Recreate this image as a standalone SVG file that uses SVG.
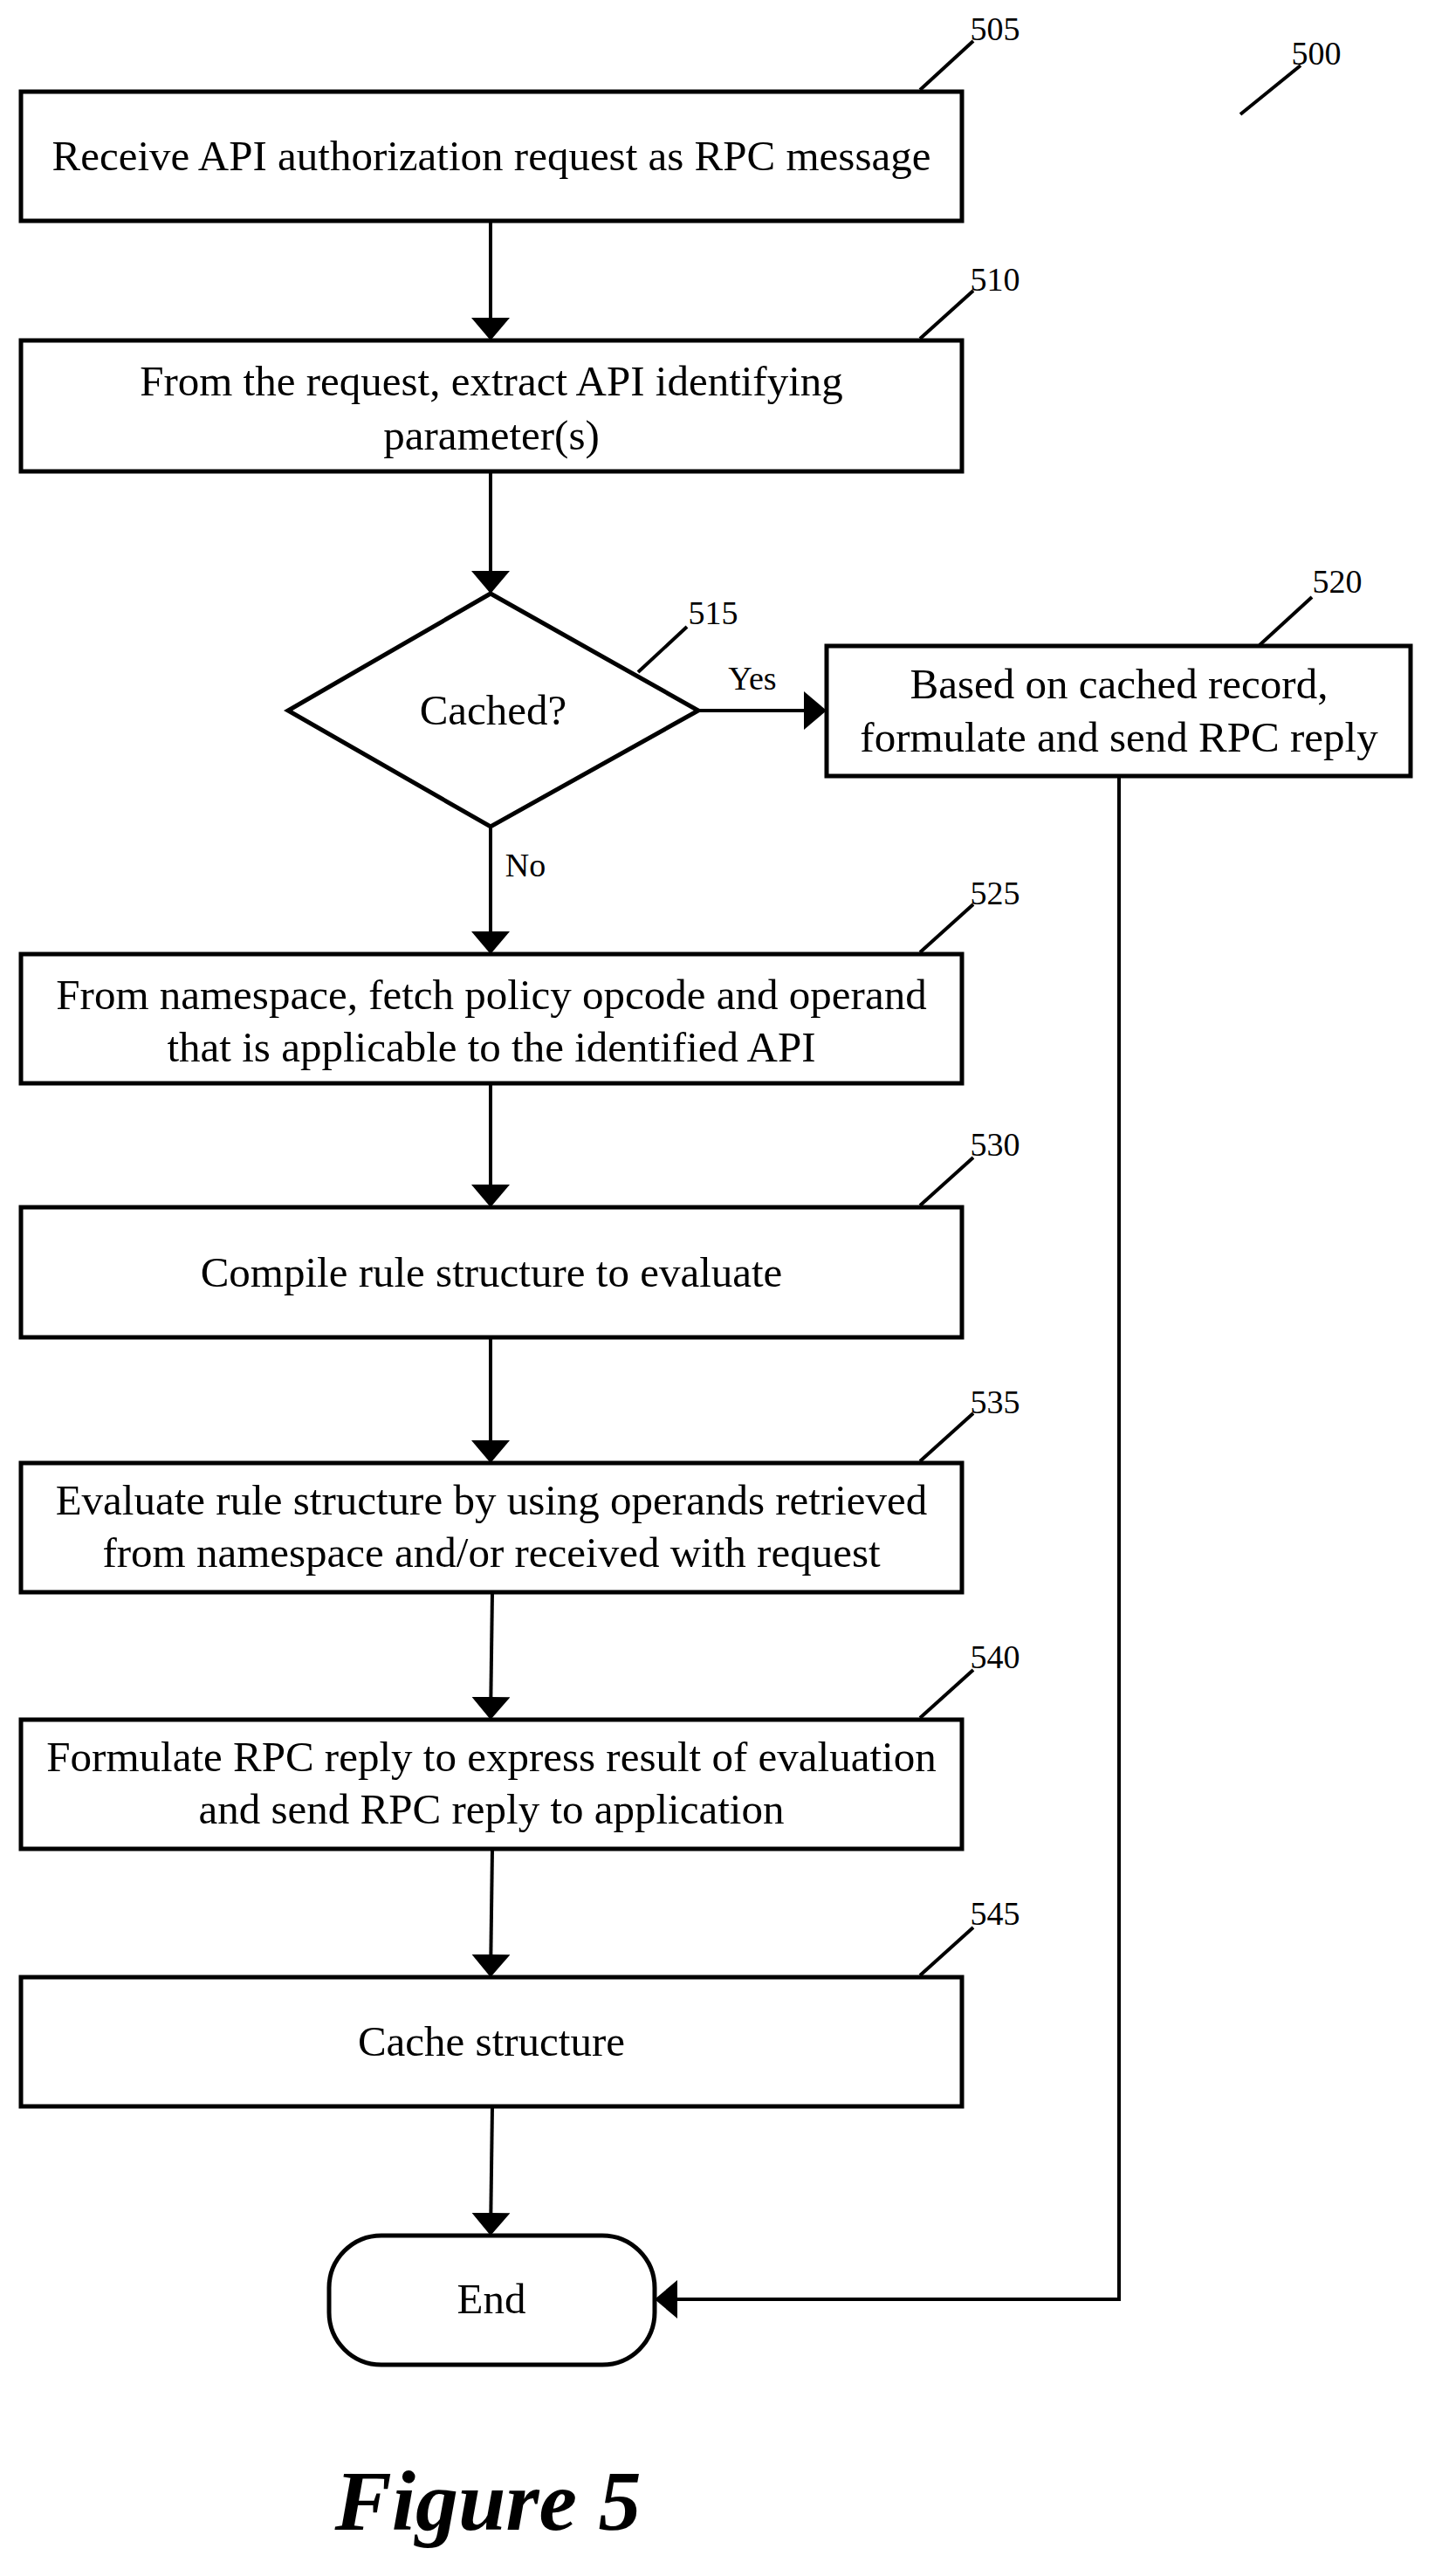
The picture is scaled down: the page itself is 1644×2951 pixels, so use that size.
<svg xmlns="http://www.w3.org/2000/svg" width="1644" height="2951" viewBox="0 0 1644 2951">
<style>
.b{fill:#fff;stroke:#000;stroke-width:5}
.c{fill:none;stroke:#000;stroke-width:4}
.t{font-family:"Liberation Serif",serif;font-size:49px;text-anchor:middle;fill:#000}
.l{font-family:"Liberation Serif",serif;font-size:38px;text-anchor:middle;fill:#000}
.f{font-family:"Liberation Serif",serif;font-size:98px;font-weight:bold;font-style:italic;text-anchor:middle}
</style>
<defs>
<marker id="ah" viewBox="0 0 10 10" refX="10" refY="5" markerWidth="26" markerHeight="44" orient="auto" markerUnits="userSpaceOnUse" preserveAspectRatio="none"><path d="M0,0L10,5L0,10z"/></marker></defs>
<g id="connectors" class="c">
<path d="M562,253V390" marker-end="url(#ah)"/>
<path d="M562,540V680" marker-end="url(#ah)"/>
<path d="M800,814H947" marker-end="url(#ah)"/>
<path d="M562,947V1093" marker-end="url(#ah)"/>
<path d="M562,1241V1383" marker-end="url(#ah)"/>
<path d="M562,1532V1676" marker-end="url(#ah)"/>
<path d="M564,1824L562,1970" marker-end="url(#ah)"/>
<path d="M564,2118L562,2265" marker-end="url(#ah)"/>
<path d="M564,2413L562,2561" marker-end="url(#ah)"/>
<path d="M1282,889V2634H750" marker-end="url(#ah)"/>
<text class="l" x="862" y="790" stroke="none">Yes</text>
<text class="l" x="602" y="1004" stroke="none">No</text>
</g>
<g id="n505"><rect class="b" x="24" y="105" width="1078" height="148"/><text class="t" x="563" y="195">Receive API authorization request as RPC message</text><path class="c" d="M1054,103L1115,47"/><text class="l" x="1140" y="46">505</text></g>
<g id="n500"><path class="c" d="M1421,131L1490,75"/><text class="l" x="1508" y="74">500</text></g>
<g id="n510"><rect class="b" x="24" y="390" width="1078" height="150"/><text class="t" x="563" y="453">From the request, extract API identifying</text><text class="t" x="563" y="515">parameter(s)</text><path class="c" d="M1054,388L1115,333"/><text class="l" x="1140" y="333">510</text></g>
<g id="n515"><path class="b" d="M562,680L800,814L562,947L330,814z"/><text class="t" x="565" y="830">Cached?</text><path class="c" d="M731,770L787,718"/><text class="l" x="817" y="715">515</text></g>
<g id="n520"><rect class="b" x="947" y="740" width="669" height="149"/><text class="t" x="1282" y="800">Based on cached record,</text><text class="t" x="1282" y="861">formulate and send RPC reply</text><path class="c" d="M1443,739L1503,684"/><text class="l" x="1532" y="679">520</text></g>
<g id="n525"><rect class="b" x="24" y="1093" width="1078" height="148"/><text class="t" x="563" y="1156">From namespace, fetch policy opcode and operand</text><text class="t" x="563" y="1216">that is applicable to the identified API</text><path class="c" d="M1054,1091L1115,1036"/><text class="l" x="1140" y="1036">525</text></g>
<g id="n530"><rect class="b" x="24" y="1383" width="1078" height="149"/><text class="t" x="563" y="1474">Compile rule structure to evaluate</text><path class="c" d="M1054,1381L1115,1326"/><text class="l" x="1140" y="1324">530</text></g>
<g id="n535"><rect class="b" x="24" y="1676" width="1078" height="148"/><text class="t" x="563" y="1735">Evaluate rule structure by using operands retrieved</text><text class="t" x="563" y="1795">from namespace and/or received with request</text><path class="c" d="M1054,1674L1115,1619"/><text class="l" x="1140" y="1619">535</text></g>
<g id="n540"><rect class="b" x="24" y="1970" width="1078" height="148"/><text class="t" x="563" y="2029">Formulate RPC reply to express result of evaluation</text><text class="t" x="563" y="2089">and send RPC reply to application</text><path class="c" d="M1054,1968L1115,1913"/><text class="l" x="1140" y="1911">540</text></g>
<g id="n545"><rect class="b" x="24" y="2265" width="1078" height="148"/><text class="t" x="563" y="2355">Cache structure</text><path class="c" d="M1054,2263L1115,2208"/><text class="l" x="1140" y="2205">545</text></g>
<g id="end"><rect class="b" x="377" y="2561" width="373" height="148" rx="60" ry="60"/><text class="t" x="563" y="2650">End</text></g>
<text class="f" x="559" y="2898">Figure 5</text>
</svg>
